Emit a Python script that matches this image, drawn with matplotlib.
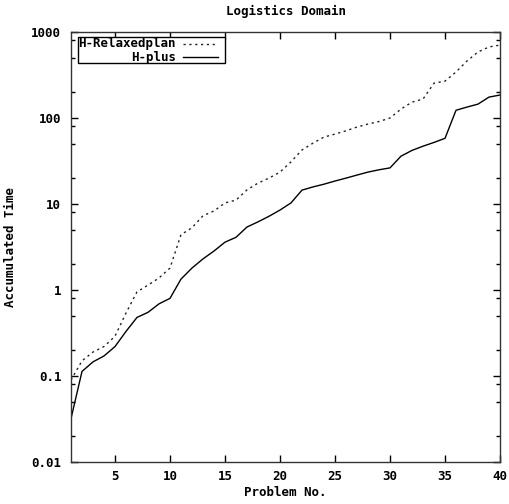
import numpy as np
import matplotlib
matplotlib.use('Agg')
import matplotlib.pyplot as plt
from matplotlib.ticker import FixedLocator, FixedFormatter, LogLocator, NullFormatter

# accumulated time per problem
problems = list(range(1, 41))
relaxed = [0.09, 0.15, 0.19, 0.22, 0.29, 0.54, 0.95, 1.14, 1.38, 1.8,
           4.4, 5.3, 7.3, 8.3, 10.3, 11.1, 14.6, 17.5, 20, 23.5,
           30.9, 42.5, 51, 60, 65, 71, 78.5, 85, 91, 100,
           127, 153, 166, 254, 268, 343, 460, 586, 670, 705]
hplus = [0.032, 0.113, 0.146, 0.171, 0.22, 0.33, 0.48, 0.55, 0.69, 0.8,
         1.34, 1.8, 2.3, 2.84, 3.6, 4.1, 5.4, 6.2, 7.2, 8.5,
         10.3, 14.5, 15.8, 17, 18.5, 20, 21.7, 23.5, 25, 26.3,
         36, 42, 47, 52, 58, 123, 134, 145, 175, 185]
labels = ["H-Relaxedplan", "H-plus"]
xticks = [5, 10, 15, 20, 25, 30, 35, 40]
yticks = [0.01, 0.1, 1, 10, 100, 1000]
ytick_labels = ["0.01", "0.1", "1", "10", "100", "1000"]

W, H = 509, 504
font = dict(family='DejaVu Sans Mono', weight='bold', size=9)

fig = plt.figure(figsize=(W / 100, H / 100), dpi=100)
ax = fig.add_axes([71 / W, 42 / H, 429 / W, 430 / H])

dotted = (0, (1.6, 2.6))
ax.plot(problems, relaxed, color='#222222', lw=1.0, linestyle=dotted)
ax.plot(problems, hplus, color='black', lw=1.0, linestyle='-')

ax.set_yscale('log')
ax.set_xlim(1, 40)
ax.set_ylim(0.01, 1000)

ax.xaxis.set_major_locator(FixedLocator(xticks))
ax.set_xticklabels([str(t) for t in xticks], fontdict=font)
ax.yaxis.set_major_locator(FixedLocator(yticks))
ax.yaxis.set_major_formatter(FixedFormatter(ytick_labels))
ax.yaxis.set_minor_locator(LogLocator(base=10, subs=[2, 5, 8]))
ax.yaxis.set_minor_formatter(NullFormatter())
for t in ax.get_yticklabels():
    t.set_fontproperties(matplotlib.font_manager.FontProperties(**font))

ax.tick_params(which='both', direction='in', top=True, right=True, color='black')
ax.tick_params(which='major', length=5, width=1)
ax.tick_params(which='minor', length=3, width=1)
ax.tick_params(axis='x', pad=6)
ax.tick_params(axis='y', pad=7)
for s in ax.spines.values():
    s.set_linewidth(1.0)
    s.set_color('#333333')

ax.set_title("Logistics Domain", fontdict=font, pad=12)
ax.set_xlabel("Problem No.", fontdict=font, labelpad=2)
ax.set_ylabel("Accumulated Time", fontdict=font, labelpad=10)

# gnuplot-like key: text right-aligned, sample to the right, boxed
def px(x, y):
    return ((x - 71) / 429, (462 - y) / 430)

bx0, by0 = px(78, 37)
bx1, by1 = px(225, 63)
ax.add_patch(plt.Rectangle((bx0, by1), bx1 - bx0, by0 - by1, transform=ax.transAxes,
                           fill=True, facecolor='white', edgecolor='black', lw=1.0, zorder=5))
rows = [44, 57]
styles = [dict(color='#222222', linestyle=dotted), dict(color='black', linestyle='-')]
for lab, yy, st in zip(labels, rows, styles):
    tx, ty = px(176, yy)
    ax.text(tx, ty, lab, transform=ax.transAxes, ha='right', va='center', zorder=6, **font)
    lx0, _ = px(183, yy)
    lx1, _ = px(218, yy)
    ax.plot([lx0, lx1], [ty, ty], transform=ax.transAxes, lw=1.0, zorder=6, **st)

fig.savefig('out.png', dpi=100)
